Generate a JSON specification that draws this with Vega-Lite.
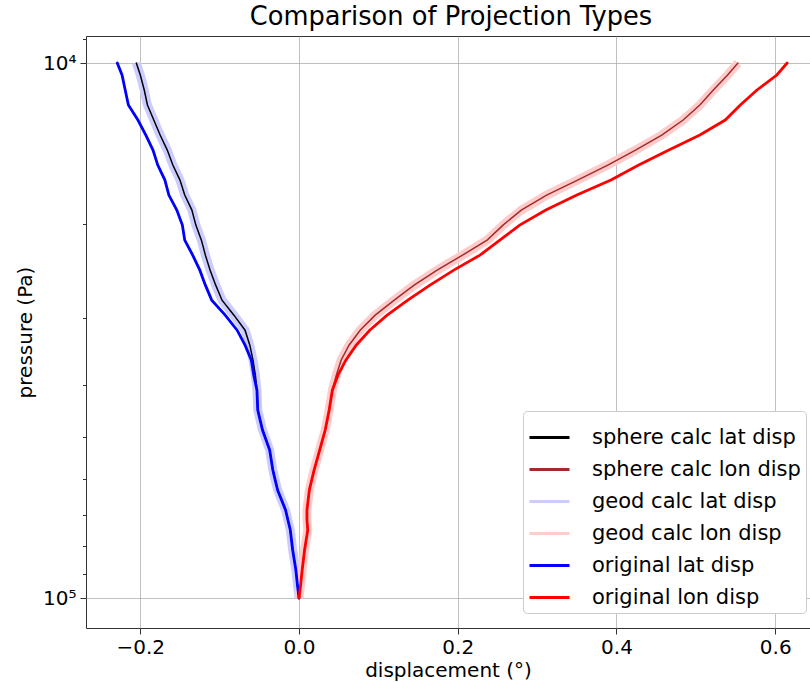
{
  "$schema": "https://vega.github.io/schema/vega-lite/v6.json",
  "width": 724,
  "height": 592,
  "autosize": {"type": "none"},
  "padding": {"left": 86, "top": 36, "right": 0, "bottom": 54},
  "background": "white",
  "title": {"text": "Comparison of Projection Types", "fontSize": 25.7, "font": "DejaVu Sans", "fontWeight": "normal", "color": "black", "offset": 5, "dx": 3},
  "config": {
    "font": "DejaVu Sans",
    "view": {"stroke": "#333333", "strokeWidth": 1},
    "axis": {"labelFont": "DejaVu Sans", "titleFont": "DejaVu Sans", "labelFontSize": 20, "titleFontSize": 20, "titleFontWeight": "normal", "labelColor": "black", "titleColor": "black", "domain": false, "tickColor": "#333333", "gridColor": "#b0b0b0", "gridWidth": 0.8},
    "legend": {"labelFont": "DejaVu Sans", "labelFontSize": 21, "labelColor": "black"}
  },
  "data": {"values": [
    {"series": "original lat disp", "p": 10000, "d": -0.229},
    {"series": "original lat disp", "p": 10530, "d": -0.223},
    {"series": "original lat disp", "p": 11231, "d": -0.219},
    {"series": "original lat disp", "p": 11981, "d": -0.215},
    {"series": "original lat disp", "p": 12781, "d": -0.203},
    {"series": "original lat disp", "p": 13634, "d": -0.193},
    {"series": "original lat disp", "p": 14544, "d": -0.184},
    {"series": "original lat disp", "p": 15514, "d": -0.178},
    {"series": "original lat disp", "p": 16550, "d": -0.169},
    {"series": "original lat disp", "p": 17655, "d": -0.164},
    {"series": "original lat disp", "p": 18833, "d": -0.154},
    {"series": "original lat disp", "p": 20090, "d": -0.147},
    {"series": "original lat disp", "p": 21431, "d": -0.144},
    {"series": "original lat disp", "p": 22861, "d": -0.134},
    {"series": "original lat disp", "p": 24387, "d": -0.125},
    {"series": "original lat disp", "p": 26014, "d": -0.118},
    {"series": "original lat disp", "p": 27751, "d": -0.110},
    {"series": "original lat disp", "p": 29603, "d": -0.093},
    {"series": "original lat disp", "p": 31579, "d": -0.078},
    {"series": "original lat disp", "p": 33685, "d": -0.068},
    {"series": "original lat disp", "p": 35933, "d": -0.060},
    {"series": "original lat disp", "p": 38331, "d": -0.057},
    {"series": "original lat disp", "p": 40888, "d": -0.053},
    {"series": "original lat disp", "p": 44530, "d": -0.052},
    {"series": "original lat disp", "p": 48527, "d": -0.046},
    {"series": "original lat disp", "p": 52897, "d": -0.037},
    {"series": "original lat disp", "p": 57647, "d": -0.033},
    {"series": "original lat disp", "p": 62827, "d": -0.027},
    {"series": "original lat disp", "p": 68460, "d": -0.017},
    {"series": "original lat disp", "p": 71486, "d": -0.014},
    {"series": "original lat disp", "p": 74640, "d": -0.011},
    {"series": "original lat disp", "p": 81337, "d": -0.008},
    {"series": "original lat disp", "p": 88630, "d": -0.004},
    {"series": "original lat disp", "p": 94556, "d": -0.002},
    {"series": "original lat disp", "p": 100000, "d": 0.0},

    {"series": "sphere calc lat disp", "p": 10000, "d": -0.205},
    {"series": "sphere calc lat disp", "p": 10530, "d": -0.200},
    {"series": "sphere calc lat disp", "p": 11231, "d": -0.195},
    {"series": "sphere calc lat disp", "p": 11981, "d": -0.191},
    {"series": "sphere calc lat disp", "p": 12781, "d": -0.183},
    {"series": "sphere calc lat disp", "p": 13634, "d": -0.175},
    {"series": "sphere calc lat disp", "p": 14544, "d": -0.166},
    {"series": "sphere calc lat disp", "p": 15514, "d": -0.159},
    {"series": "sphere calc lat disp", "p": 16550, "d": -0.150},
    {"series": "sphere calc lat disp", "p": 17655, "d": -0.144},
    {"series": "sphere calc lat disp", "p": 18833, "d": -0.135},
    {"series": "sphere calc lat disp", "p": 20090, "d": -0.130},
    {"series": "sphere calc lat disp", "p": 21431, "d": -0.123},
    {"series": "sphere calc lat disp", "p": 22861, "d": -0.118},
    {"series": "sphere calc lat disp", "p": 24387, "d": -0.112},
    {"series": "sphere calc lat disp", "p": 26014, "d": -0.105},
    {"series": "sphere calc lat disp", "p": 27751, "d": -0.097},
    {"series": "sphere calc lat disp", "p": 29603, "d": -0.082},
    {"series": "sphere calc lat disp", "p": 31579, "d": -0.068},
    {"series": "sphere calc lat disp", "p": 33685, "d": -0.062},
    {"series": "sphere calc lat disp", "p": 35933, "d": -0.058},
    {"series": "sphere calc lat disp", "p": 38331, "d": -0.055},
    {"series": "sphere calc lat disp", "p": 40888, "d": -0.053},
    {"series": "sphere calc lat disp", "p": 44530, "d": -0.052},
    {"series": "sphere calc lat disp", "p": 48527, "d": -0.046},
    {"series": "sphere calc lat disp", "p": 52897, "d": -0.037},
    {"series": "sphere calc lat disp", "p": 57647, "d": -0.033},
    {"series": "sphere calc lat disp", "p": 62827, "d": -0.027},
    {"series": "sphere calc lat disp", "p": 68460, "d": -0.017},
    {"series": "sphere calc lat disp", "p": 71486, "d": -0.014},
    {"series": "sphere calc lat disp", "p": 74640, "d": -0.011},
    {"series": "sphere calc lat disp", "p": 81337, "d": -0.008},
    {"series": "sphere calc lat disp", "p": 88630, "d": -0.004},
    {"series": "sphere calc lat disp", "p": 94556, "d": -0.002},
    {"series": "sphere calc lat disp", "p": 100000, "d": 0.0},

    {"series": "geod calc lat disp", "p": 10000, "d": -0.205},
    {"series": "geod calc lat disp", "p": 10530, "d": -0.200},
    {"series": "geod calc lat disp", "p": 11231, "d": -0.195},
    {"series": "geod calc lat disp", "p": 11981, "d": -0.191},
    {"series": "geod calc lat disp", "p": 12781, "d": -0.183},
    {"series": "geod calc lat disp", "p": 13634, "d": -0.175},
    {"series": "geod calc lat disp", "p": 14544, "d": -0.166},
    {"series": "geod calc lat disp", "p": 15514, "d": -0.159},
    {"series": "geod calc lat disp", "p": 16550, "d": -0.150},
    {"series": "geod calc lat disp", "p": 17655, "d": -0.144},
    {"series": "geod calc lat disp", "p": 18833, "d": -0.135},
    {"series": "geod calc lat disp", "p": 20090, "d": -0.130},
    {"series": "geod calc lat disp", "p": 21431, "d": -0.123},
    {"series": "geod calc lat disp", "p": 22861, "d": -0.118},
    {"series": "geod calc lat disp", "p": 24387, "d": -0.112},
    {"series": "geod calc lat disp", "p": 26014, "d": -0.105},
    {"series": "geod calc lat disp", "p": 27751, "d": -0.097},
    {"series": "geod calc lat disp", "p": 29603, "d": -0.082},
    {"series": "geod calc lat disp", "p": 31579, "d": -0.068},
    {"series": "geod calc lat disp", "p": 33685, "d": -0.062},
    {"series": "geod calc lat disp", "p": 35933, "d": -0.058},
    {"series": "geod calc lat disp", "p": 38331, "d": -0.055},
    {"series": "geod calc lat disp", "p": 40888, "d": -0.053},
    {"series": "geod calc lat disp", "p": 44530, "d": -0.052},
    {"series": "geod calc lat disp", "p": 48527, "d": -0.046},
    {"series": "geod calc lat disp", "p": 52897, "d": -0.037},
    {"series": "geod calc lat disp", "p": 57647, "d": -0.033},
    {"series": "geod calc lat disp", "p": 62827, "d": -0.027},
    {"series": "geod calc lat disp", "p": 68460, "d": -0.017},
    {"series": "geod calc lat disp", "p": 71486, "d": -0.014},
    {"series": "geod calc lat disp", "p": 74640, "d": -0.011},
    {"series": "geod calc lat disp", "p": 81337, "d": -0.008},
    {"series": "geod calc lat disp", "p": 88630, "d": -0.004},
    {"series": "geod calc lat disp", "p": 94556, "d": -0.002},
    {"series": "geod calc lat disp", "p": 100000, "d": 0.0},

    {"series": "original lon disp", "p": 10000, "d": 0.615},
    {"series": "original lon disp", "p": 10530, "d": 0.602},
    {"series": "original lon disp", "p": 11231, "d": 0.577},
    {"series": "original lon disp", "p": 11981, "d": 0.556},
    {"series": "original lon disp", "p": 12781, "d": 0.537},
    {"series": "original lon disp", "p": 13634, "d": 0.505},
    {"series": "original lon disp", "p": 14544, "d": 0.466},
    {"series": "original lon disp", "p": 15514, "d": 0.428},
    {"series": "original lon disp", "p": 16550, "d": 0.393},
    {"series": "original lon disp", "p": 17655, "d": 0.350},
    {"series": "original lon disp", "p": 18833, "d": 0.311},
    {"series": "original lon disp", "p": 20090, "d": 0.278},
    {"series": "original lon disp", "p": 21431, "d": 0.253},
    {"series": "original lon disp", "p": 22861, "d": 0.228},
    {"series": "original lon disp", "p": 24387, "d": 0.195},
    {"series": "original lon disp", "p": 26014, "d": 0.165},
    {"series": "original lon disp", "p": 27751, "d": 0.137},
    {"series": "original lon disp", "p": 29603, "d": 0.111},
    {"series": "original lon disp", "p": 31579, "d": 0.089},
    {"series": "original lon disp", "p": 33685, "d": 0.072},
    {"series": "original lon disp", "p": 35933, "d": 0.059},
    {"series": "original lon disp", "p": 38331, "d": 0.049},
    {"series": "original lon disp", "p": 40888, "d": 0.042},
    {"series": "original lon disp", "p": 44530, "d": 0.038},
    {"series": "original lon disp", "p": 48527, "d": 0.033},
    {"series": "original lon disp", "p": 52897, "d": 0.026},
    {"series": "original lon disp", "p": 57647, "d": 0.019},
    {"series": "original lon disp", "p": 62827, "d": 0.013},
    {"series": "original lon disp", "p": 68460, "d": 0.010},
    {"series": "original lon disp", "p": 71486, "d": 0.010},
    {"series": "original lon disp", "p": 74640, "d": 0.011},
    {"series": "original lon disp", "p": 81337, "d": 0.007},
    {"series": "original lon disp", "p": 88630, "d": 0.004},
    {"series": "original lon disp", "p": 94556, "d": 0.002},
    {"series": "original lon disp", "p": 100000, "d": 0.0},

    {"series": "sphere calc lon disp", "p": 10000, "d": 0.553},
    {"series": "sphere calc lon disp", "p": 10530, "d": 0.540},
    {"series": "sphere calc lon disp", "p": 11231, "d": 0.522},
    {"series": "sphere calc lon disp", "p": 11981, "d": 0.505},
    {"series": "sphere calc lon disp", "p": 12781, "d": 0.484},
    {"series": "sphere calc lon disp", "p": 13634, "d": 0.457},
    {"series": "sphere calc lon disp", "p": 14544, "d": 0.424},
    {"series": "sphere calc lon disp", "p": 15514, "d": 0.389},
    {"series": "sphere calc lon disp", "p": 16550, "d": 0.351},
    {"series": "sphere calc lon disp", "p": 17655, "d": 0.312},
    {"series": "sphere calc lon disp", "p": 18833, "d": 0.280},
    {"series": "sphere calc lon disp", "p": 20090, "d": 0.257},
    {"series": "sphere calc lon disp", "p": 21431, "d": 0.237},
    {"series": "sphere calc lon disp", "p": 22861, "d": 0.206},
    {"series": "sphere calc lon disp", "p": 24387, "d": 0.174},
    {"series": "sphere calc lon disp", "p": 26014, "d": 0.145},
    {"series": "sphere calc lon disp", "p": 27751, "d": 0.120},
    {"series": "sphere calc lon disp", "p": 29603, "d": 0.096},
    {"series": "sphere calc lon disp", "p": 31579, "d": 0.077},
    {"series": "sphere calc lon disp", "p": 33685, "d": 0.063},
    {"series": "sphere calc lon disp", "p": 35933, "d": 0.053},
    {"series": "sphere calc lon disp", "p": 38331, "d": 0.047},
    {"series": "sphere calc lon disp", "p": 40888, "d": 0.042},
    {"series": "sphere calc lon disp", "p": 44530, "d": 0.038},
    {"series": "sphere calc lon disp", "p": 48527, "d": 0.033},
    {"series": "sphere calc lon disp", "p": 52897, "d": 0.026},
    {"series": "sphere calc lon disp", "p": 57647, "d": 0.019},
    {"series": "sphere calc lon disp", "p": 62827, "d": 0.013},
    {"series": "sphere calc lon disp", "p": 68460, "d": 0.010},
    {"series": "sphere calc lon disp", "p": 71486, "d": 0.010},
    {"series": "sphere calc lon disp", "p": 74640, "d": 0.011},
    {"series": "sphere calc lon disp", "p": 81337, "d": 0.007},
    {"series": "sphere calc lon disp", "p": 88630, "d": 0.004},
    {"series": "sphere calc lon disp", "p": 94556, "d": 0.002},
    {"series": "sphere calc lon disp", "p": 100000, "d": 0.0},

    {"series": "geod calc lon disp", "p": 10000, "d": 0.553},
    {"series": "geod calc lon disp", "p": 10530, "d": 0.540},
    {"series": "geod calc lon disp", "p": 11231, "d": 0.522},
    {"series": "geod calc lon disp", "p": 11981, "d": 0.505},
    {"series": "geod calc lon disp", "p": 12781, "d": 0.484},
    {"series": "geod calc lon disp", "p": 13634, "d": 0.457},
    {"series": "geod calc lon disp", "p": 14544, "d": 0.424},
    {"series": "geod calc lon disp", "p": 15514, "d": 0.389},
    {"series": "geod calc lon disp", "p": 16550, "d": 0.351},
    {"series": "geod calc lon disp", "p": 17655, "d": 0.312},
    {"series": "geod calc lon disp", "p": 18833, "d": 0.280},
    {"series": "geod calc lon disp", "p": 20090, "d": 0.257},
    {"series": "geod calc lon disp", "p": 21431, "d": 0.237},
    {"series": "geod calc lon disp", "p": 22861, "d": 0.206},
    {"series": "geod calc lon disp", "p": 24387, "d": 0.174},
    {"series": "geod calc lon disp", "p": 26014, "d": 0.145},
    {"series": "geod calc lon disp", "p": 27751, "d": 0.120},
    {"series": "geod calc lon disp", "p": 29603, "d": 0.096},
    {"series": "geod calc lon disp", "p": 31579, "d": 0.077},
    {"series": "geod calc lon disp", "p": 33685, "d": 0.063},
    {"series": "geod calc lon disp", "p": 35933, "d": 0.053},
    {"series": "geod calc lon disp", "p": 38331, "d": 0.047},
    {"series": "geod calc lon disp", "p": 40888, "d": 0.042},
    {"series": "geod calc lon disp", "p": 44530, "d": 0.038},
    {"series": "geod calc lon disp", "p": 48527, "d": 0.033},
    {"series": "geod calc lon disp", "p": 52897, "d": 0.026},
    {"series": "geod calc lon disp", "p": 57647, "d": 0.019},
    {"series": "geod calc lon disp", "p": 62827, "d": 0.013},
    {"series": "geod calc lon disp", "p": 68460, "d": 0.010},
    {"series": "geod calc lon disp", "p": 71486, "d": 0.010},
    {"series": "geod calc lon disp", "p": 74640, "d": 0.011},
    {"series": "geod calc lon disp", "p": 81337, "d": 0.007},
    {"series": "geod calc lon disp", "p": 88630, "d": 0.004},
    {"series": "geod calc lon disp", "p": 94556, "d": 0.002},
    {"series": "geod calc lon disp", "p": 100000, "d": 0.0}
  ]},
  "encoding": {
    "x": {"field": "d", "type": "quantitative", "scale": {"domain": [-0.2684, 0.6438], "nice": false, "zero": false},
      "axis": {"title": "displacement (°)", "values": [-0.2, 0, 0.2, 0.4, 0.6], "format": ".1f", "grid": true, "tickSize": 6, "labelPadding": 3, "titlePadding": 3}},
    "y": {"field": "p", "type": "quantitative", "scale": {"type": "log", "domain": [8902, 113782], "nice": false, "reverse": true},
      "axis": {"title": "pressure (Pa)", "values": [9000, 10000, 20000, 30000, 40000, 50000, 60000, 70000, 80000, 90000, 100000],
        "labelExpr": "datum.value == 10000 ? '10⁴' : (datum.value == 100000 ? '10⁵' : '')",
        "grid": true,
        "gridOpacity": {"condition": {"test": "datum.value == 10000 || datum.value == 100000", "value": 1}, "value": 0},
        "tickSize": {"condition": {"test": "datum.value == 10000 || datum.value == 100000", "value": 6}, "value": 3.5},
        "labelPadding": 4, "titlePadding": 7}},
    "color": {"field": "series", "type": "nominal",
      "scale": {"domain": ["sphere calc lat disp", "sphere calc lon disp", "geod calc lat disp", "geod calc lon disp", "original lat disp", "original lon disp"],
        "range": ["#000000", "#a52a2a", "#ccccff", "#ffcccc", "#0000ff", "#ff0000"]},
      "legend": {"title": null, "orient": "none", "legendX": 437, "legendY": 375, "symbolType": "stroke", "symbolSize": 1600, "symbolStrokeWidth": 3,
        "labelOffset": 21, "rowPadding": 0, "padding": 5, "fillColor": "white", "strokeColor": "#cccccc", "cornerRadius": 4, "labelLimit": 400}},
    "order": {"field": "p", "type": "quantitative"}
  },
  "layer": [
    {"transform": [{"filter": "indexof(datum.series, 'geod') >= 0"}], "mark": {"type": "line", "strokeWidth": 9, "strokeCap": "butt"}},
    {"transform": [{"filter": "indexof(datum.series, 'sphere') >= 0"}], "mark": {"type": "line", "strokeWidth": 1.5, "strokeCap": "round"}},
    {"transform": [{"filter": "indexof(datum.series, 'original') >= 0"}], "mark": {"type": "line", "strokeWidth": 2.8, "strokeCap": "round"}}
  ]
}
